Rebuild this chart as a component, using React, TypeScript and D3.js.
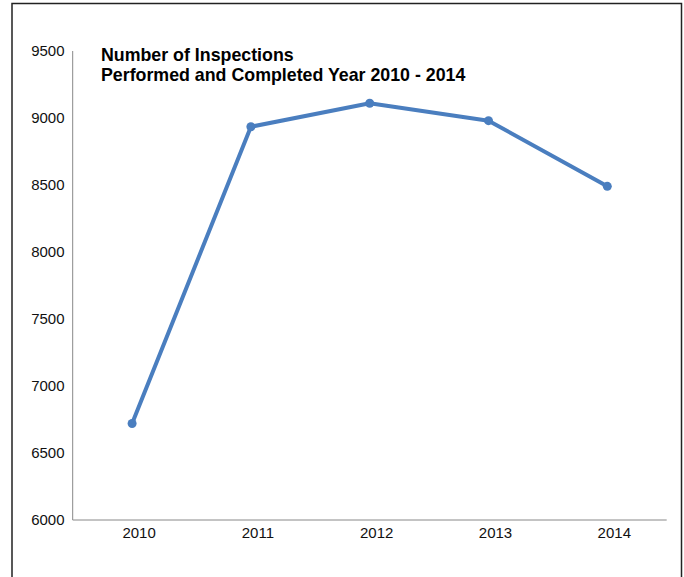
import React from "react";
import * as d3 from "d3";

const years = ["2010", "2011", "2012", "2013", "2014"];
const inspections = [6720, 8935, 9110, 8980, 8490];
const yTicks = [6000, 6500, 7000, 7500, 8000, 8500, 9000, 9500];
const titleLines = ["Number of Inspections", "Performed and Completed Year 2010 - 2014"];

export default function App() {
  const W = 684, H = 577;
  const left = 72.7, right = 666.7, top = 51, bottom = 520;
  const x = d3.scalePoint<string>().domain(years).range([left, right]).padding(0.5);
  const y = d3.scaleLinear().domain([6000, 9500]).range([bottom, top]);
  const line = d3.line<number>().x((_, i) => x(years[i])!).y((d) => y(d));
  const font = "'Liberation Sans', Arial, Helvetica, sans-serif";
  const blue = "#4a7ebf";
  return (
    <svg width={W} height={H} style={{ position: "absolute", left: 0, top: 0, background: "#fff" }} fontFamily={font}>
      <rect x={0} y={0} width={W} height={H} fill="#fff" />
      <path d={`M12,${H} V3.5 H681.5 V${H}`} fill="none" stroke="#222" strokeWidth={1.5} />
      <line x1={left} x2={left} y1={top} y2={bottom} stroke="#888" strokeWidth={1} />
      <line x1={left} x2={right} y1={bottom} y2={bottom} stroke="#888" strokeWidth={1} />
      {yTicks.map((t) => (
        <text key={t} x={64.5} y={y(t)} dy="0.36em" textAnchor="end" fontSize={15} fill="#111">
          {t}
        </text>
      ))}
      {years.map((yr) => (
        <text key={yr} x={x(yr)! + 7} y={538.3} textAnchor="middle" fontSize={15} fill="#111">
          {yr}
        </text>
      ))}
      {titleLines.map((t, i) => (
        <text key={i} x={101} y={60.5 + i * 20.5} fontSize={17.8} fontWeight="bold" fill="#000">
          {t}
        </text>
      ))}
      <path d={line(inspections) || ""} fill="none" stroke={blue} strokeWidth={4} strokeLinejoin="round" />
      {inspections.map((v, i) => (
        <circle key={i} cx={x(years[i])!} cy={y(v)} r={4.5} fill={blue} />
      ))}
    </svg>
  );
}
